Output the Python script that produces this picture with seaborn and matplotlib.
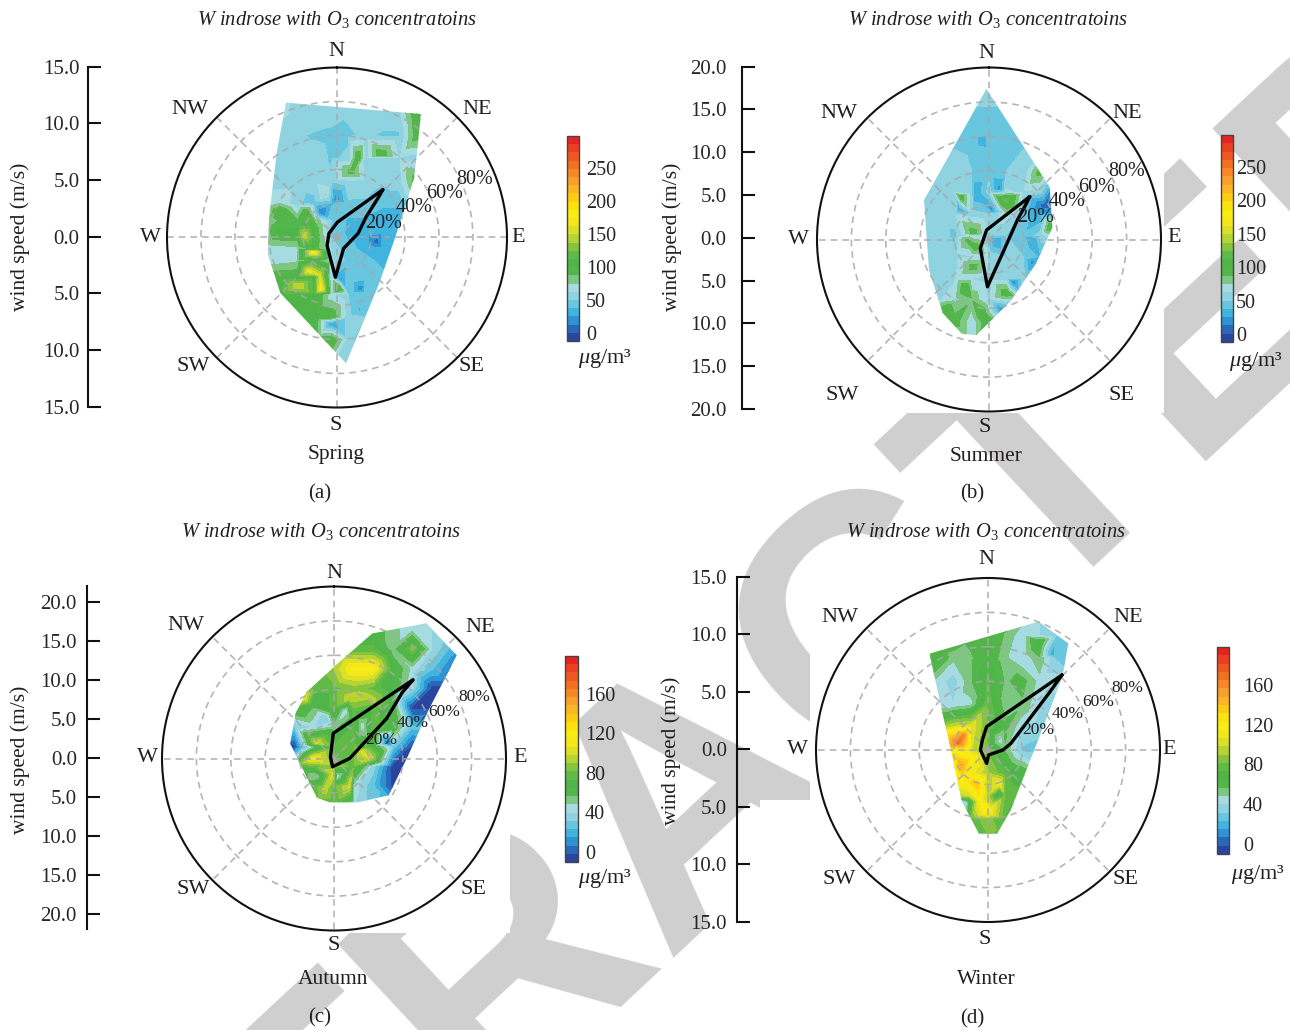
import numpy as np
import pandas as pd
import matplotlib
matplotlib.use('Agg')
import matplotlib.pyplot as plt
import seaborn as sns
from matplotlib.patches import Polygon, Rectangle

W, H = 1290, 1030
DIRS = ['N', 'NE', 'E', 'SE', 'S', 'SW', 'W', 'NW']
PCT_LABELS = ['20%', '40%', '60%', '80%']
TITLE = r'W indrose with O$_3$ concentratoins'

# speed grid of O3 values, rows run north to south
spring_x = [-6.5, -5, -3.5, -2, -0.5, 1, 2.5, 4, 5.5, 7, 8.5]
spring_y = [13, 11, 9, 7, 5, 3, 1.5, 0.5, -1, -2, -3.5, -5, -7, -9, -11.5]
spring_o3 = [
    [85, 80, 60, 60, 60, 60, 60, 60, 62, 100, 105],
    [80, 65, 60, 60, 58, 52, 60, 58, 60, 100, 105],
    [58, 58, 52, 48, 45, 48, 52, 48, 48, 95, 100],
    [58, 58, 58, 58, 48, 52, 55, 52, 60, 55, 60],
    [52, 55, 55, 58, 52, 60, 58, 52, 58, 95, 90],
    [60, 75, 52, 45, 35, 48, 48, 40, 40, 40, 40],
    [70, 90, 88, 85, 50, 35, 35, 30, 30, 30, 30],
    [75, 105, 105, 100, 45, 35, 33, 30, 28, 30, 30],
    [65, 68, 70, 95, 60, 40, 35, 30, 30, 35, 35],
    [65, 68, 72, 95, 65, 45, 40, 35, 35, 40, 40],
    [95, 100, 100, 105, 60, 50, 45, 40, 40, 40, 40],
    [100, 105, 108, 108, 65, 50, 50, 45, 45, 45, 45],
    [95, 100, 105, 105, 100, 55, 50, 55, 45, 45, 45],
    [65, 65, 80, 100, 105, 55, 38, 38, 50, 50, 50],
    [62, 62, 62, 62, 60, 62, 62, 60, 60, 60, 60],
]
spring_edge = [(-4.5, 11.9), (7.4, 10.9), (7.1, 7.9), (6.8, 5.2), (5.1, -0.1), (3.7, -4.1),
               (0.8, -11.1), (-5.0, -4.9), (-6.1, -1.5), (-6.0, 1.7), (-5.3, 7.6)]
spring_spots = [(-1.4, 2.2, 10), (-0.1, 3.4, 15), (3.5, -0.4, 5), (0.4, -3.8, 20), (2.2, -4.6, 15), (-0.5, -7.6, 25),
                (2, -6.4, 35), (-2.5, -3, 165), (-1.5, -3.3, 150), (-3.4, -4.3, 150), (-1.4, -4.6, 170),
                (-2.1, -1.3, 175), (-2.9, 0.2, 150), (1.9, 7.1, 100), (3.9, 7.3, 100), (1.3, 5.8, 95),
                (0.2, -4.5, 110), (-5, 2.3, 105), (-2.7, 2.2, 105), (-1, 3.8, 75)]
spring_dir = [43.8, 1.5, 296.6, 231.3, 182.3, 149, 79.2, 55, 45.9]
spring_pct = [38.9, 9, 5.3, 7.5, 23.4, 7.5, 12.6, 20.8, 34]

summer_x = [-8, -6, -4, -2, 0, 2, 4, 6, 8]
summer_y = [18, 15.5, 13, 10.5, 8, 5.5, 3, 0.5, -2, -4.5, -7, -9.5, -12]
summer_o3 = [
    [50, 50, 50, 50, 50, 50, 50, 50, 50],
    [50, 50, 50, 50, 50, 50, 50, 50, 50],
    [48, 48, 48, 48, 45, 48, 48, 48, 48],
    [50, 50, 50, 48, 40, 48, 50, 50, 50],
    [55, 55, 55, 50, 48, 50, 52, 95, 95],
    [58, 60, 62, 50, 55, 65, 60, 55, 55],
    [58, 60, 60, 55, 50, 70, 45, 25, 25],
    [60, 60, 45, 65, 55, 50, 40, 55, 80],
    [60, 60, 55, 62, 60, 50, 50, 35, 50],
    [60, 55, 60, 62, 55, 55, 55, 50, 50],
    [60, 60, 70, 85, 60, 72, 60, 55, 50],
    [100, 105, 95, 65, 105, 65, 45, 50, 50],
    [65, 70, 65, 65, 80, 60, 55, 50, 50],
]
summer_edge = [(-0.3, 17.6), (7.1, 6.1), (7.4, 1.4), (5.5, -2.8), (2.6, -7.1), (-1.5, -11.2),
               (-3.2, -11), (-5.4, -8.6), (-7, -3.6), (-7.6, 4.6)]
summer_spots = [(-3.3, 5, 100), (-1.6, 5.4, 25), (1.9, 4.6, 125), (1.2, 5.9, 20), (-3.4, 3.4, 20), (0.4, 3.4, 20),
                (6.4, 4, 5), (7.1, 5.2, 15), (7.2, 1.5, 105), (-1.8, 0.8, 95), (-1.5, -1, 100), (-2.7, 0, 90),
                (0.7, 0, 20), (5, -2.6, 20), (5.3, 0, 25), (2.8, -4.9, 15), (1.6, -8.2, 15), (-1.8, -3.2, 95),
                (-2.7, -5.5, 105), (2.1, -6.3, 100), (-0.8, -8.8, 105), (-4.8, -8, 100), (-0.8, 11.3, 30)]
summer_dir = [43.6, 345.8, 224.3, 181.9, 118, 55.5, 46.7]
summer_pct = [34.4, 5.7, 7.2, 27.5, 10.5, 20, 29.2]

autumn_x = [-7.5, -5, -2.5, 0, 2.5, 5, 7.5, 10, 12.5, 15, 17.5]
autumn_y = [19, 16.5, 14, 11.5, 9, 6.5, 4, 1.5, -1, -3.5, -6]
autumn_o3 = [
    [70, 70, 70, 70, 70, 65, 45, 40, 40, 35, 25],
    [70, 70, 70, 70, 70, 65, 50, 45, 40, 30, 20],
    [75, 75, 75, 75, 75, 75, 50, 85, 40, 20, 5],
    [78, 78, 78, 90, 118, 118, 68, 45, 25, 5, -5],
    [78, 78, 78, 78, 85, 78, 65, 40, -5, -5, -5],
    [60, 72, 55, 78, 82, 75, 65, -5, -5, -5, -5],
    [30, 30, 40, 50, 75, 80, 68, 25, 25, 25, 25],
    [-5, -5, 50, 75, 78, 70, 30, -5, 10, 10, 10],
    [72, 72, 78, 85, 80, 35, -5, -5, -5, -5, -5],
    [72, 72, 75, 78, 45, 25, -5, -5, -5, -5, -5],
    [72, 72, 72, 72, 40, 25, 20, -5, -5, -5, -5],
]
autumn_edge = [(11.8, 17.3), (15.7, 13.2), (12.1, 6.2), (9.4, 0.2), (7, -4.7), (3.1, -5.6),
               (-0.6, -5.6), (-2.2, -5), (-5.6, 1.9), (-4.9, 5.8), (-3.5, 8.5), (0.2, 11.9), (4.9, 16)]
autumn_spots = [(-2.7, 0, 110), (3.9, 8, 95), (2, 7.7, 95), (4.9, 7.4, 95), (-1.1, 5.2, 30), (7, 2, -5),
                (-2.2, 2, 100), (3.6, 0.9, 100), (4.6, 0, 100), (-3.8, 7.7, 105), (1.5, 6.2, 40), (3.6, 4.1, 40),
                (0.4, -2.3, 40), (-2.2, -2.3, 45), (2, -3.6, 100), (-1.2, -4, 95), (-0.1, -1.9, 100), (9.1, 0.9, -5)]
autumn_dir = [45.1, 358.4, 297, 190, 89.3, 64.3, 52.7, 46]
autumn_pct = [64.7, 14.7, 2.3, 4.9, 9.2, 18.1, 38.6, 55]

winter_x = [-6, -4.5, -3, -1.5, 0, 1.5, 3, 4.5, 6, 7.5]
winter_y = [12, 10, 8, 6, 4, 2, 0, -2, -4, -6, -8]
winter_o3 = [
    [70, 70, 70, 70, 70, 68, 55, 40, 35, 35],
    [72, 72, 70, 60, 70, 55, 42, 40, 30, 20],
    [80, 70, 50, 55, 65, 50, 40, 55, 30, 20],
    [45, 45, 35, 55, 75, 55, 60, 45, 45, 40],
    [40, 40, 40, 45, 80, 50, 55, 40, 35, 35],
    [80, 85, 100, 105, 80, 60, 40, 35, 30, 30],
    [90, 100, 115, 100, 80, 55, 30, 28, 30, 30],
    [88, 100, 108, 110, 90, 75, 65, 50, 35, 35],
    [80, 80, 90, 100, 92, 80, 78, 45, 40, 40],
    [78, 72, 76, 78, 85, 72, 60, 50, 50, 50],
    [78, 78, 78, 78, 80, 78, 70, 60, 60, 60],
]
winter_edge = [(4.4, 11.2), (7, 9.3), (6.5, 6.4), (4.5, 1.2), (2, -5.2), (0.8, -7.3),
               (-0.8, -7.3), (-2.3, -4.4), (-3.5, 1.2), (-3.9, 2.9), (-5.1, 8.4)]
winter_spots = [(-2.1, 1.3, 160), (-2.6, 0.6, 170), (-2.4, -1.3, 150), (-0.1, -5.4, 120), (-1, -3, 140),
                (-1.4, -0.7, 120), (1, -2.9, 110), (-2.1, -2.6, 120), (-0.7, -4.4, 115), (1, -3.8, 55),
                (-2.1, -4.6, 30), (5.6, 8.4, 15), (4.4, 9.4, 70), (1, 0.9, 40)]
winter_dir = [44.6, 356.6, 330.8, 270, 186, 173, 90, 73.8, 46.8]
winter_pct = [61.2, 13.6, 6.7, 4.4, 7.8, 2.9, 8.7, 13.9, 49.5]

speed_ticks_15 = [15, 10, 5, 0, -5, -10, -15]
speed_ticks_20 = [20, 15, 10, 5, 0, -5, -10, -15, -20]
cbar_ticks_wide = [0, 50, 100, 150, 200, 250]
cbar_ticks_narrow = [0, 40, 80, 120, 160]

rose_colors = ['#2a3a96', '#2b50a8', '#2b7cc6', '#2fa6dc', '#4dbde0', '#74cadf', '#9ad6e2', '#a9dde0', '#6fc063',
               '#4fb548', '#4fb548', '#62ba46', '#88c53f', '#b5d334', '#dbdf28', '#f3e81a', '#f9ed13', '#fde50d',
               '#fdd20e', '#fcbc20', '#fba62f', '#f78f28', '#f47b20', '#f06322', '#ee4a24', '#e8301f', '#e3181f']

panels = [
    dict(x=spring_x, y=spring_y, z=spring_o3, edge=spring_edge, spots=spring_spots, dirs=spring_dir, pct=spring_pct,
         season='Spring', tag='(a)', c=(337, 237.5), R=170, rmax=15, ticks=speed_ticks_15, tpad=6,
         spine=(88, 66.7, 406.7), lim=15, ylab=(20, 233), vr=(-12, 298), cticks=cbar_ticks_wide,
         cb=(567, 136, 579, 341), cpad=5, unit=(605, 355), title=(337, 16), lab=(336, 450), tagp=(320, 490),
         comp=[(336, 47), (477, 106), (518, 233), (472, 363), (336, 421), (193, 363), (150, 233), (190, 106)],
         pc=[(384, 220), (414, 203), (445, 190), (475, 175)], pcfs=14.5),
    dict(x=summer_x, y=summer_y, z=summer_o3, edge=summer_edge, spots=summer_spots, dirs=summer_dir, pct=summer_pct,
         season='Summer', tag='(b)', c=(989, 239.5), R=172, rmax=20.1, ticks=speed_ticks_20, tpad=11,
         spine=(742, 66.7, 409), lim=20, ylab=(672, 233), vr=(-12, 298), cticks=cbar_ticks_wide,
         cb=(1221, 135, 1233, 342), cpad=2, unit=(1256, 358), title=(988, 16), lab=(986, 452), tagp=(972, 490),
         comp=[(986, 50), (1127, 109), (1174, 233), (1122, 391), (985, 423), (842, 391), (798, 235), (839, 109)],
         pc=[(1036, 213), (1067, 197), (1097, 183), (1127, 167)], pcfs=14.5),
    dict(x=autumn_x, y=autumn_y, z=autumn_o3, edge=autumn_edge, spots=autumn_spots, dirs=autumn_dir, pct=autumn_pct,
         season='Autumn', tag='(c)', c=(334, 758.5), R=172, rmax=22, ticks=speed_ticks_20, tpad=7,
         spine=(86.5, 586, 929.4), lim=22, ylab=(20, 756), vr=(-10, 198), cticks=cbar_ticks_narrow,
         cb=(565, 656, 578, 862), cpad=5, unit=(605, 875), title=(321, 527), lab=(333, 975), tagp=(320, 1014),
         comp=[(334, 570), (480, 624), (520, 753), (474, 886), (334, 941), (193, 886), (147, 753), (186, 622)],
         pc=[(381, 736), (413, 719), (444, 708), (474, 693)], pcfs=12.5),
    dict(x=winter_x, y=winter_y, z=winter_o3, edge=winter_edge, spots=winter_spots, dirs=winter_dir, pct=winter_pct,
         season='Winter', tag='(d)', c=(988, 750), R=172, rmax=15, ticks=speed_ticks_15, tpad=7,
         spine=(736.5, 576.7, 921.7), lim=15, ylab=(671, 747), vr=(-10, 198), cticks=cbar_ticks_narrow,
         cb=(1217, 647, 1229, 854), cpad=10, unit=(1258, 871), title=(986, 527), lab=(986, 975), tagp=(972, 1015),
         comp=[(986, 556), (1128, 613), (1169, 746), (1126, 876), (985, 935), (839, 876), (797, 745), (840, 613)],
         pc=[(1038, 726), (1068, 710), (1098, 698), (1127, 684)], pcfs=12.5),
]

sns.set_theme(style='white')
plt.rcParams['font.family'] = ['Liberation Serif', 'DejaVu Serif']
plt.rcParams['mathtext.fontset'] = 'custom'
plt.rcParams['mathtext.rm'] = 'Liberation Serif'
plt.rcParams['mathtext.it'] = 'Liberation Serif:italic'
plt.rcParams['text.color'] = '#231f20'
plt.rcParams['axes.labelcolor'] = '#231f20'

cmap = sns.blend_palette(rose_colors, n_colors=256, as_cmap=True)
fig = plt.figure(figsize=(W / 100, H / 100), dpi=100, facecolor='white')


def rect(x0, y0, x1, y1):
    return [x0 / W, 1 - y1 / H, (x1 - x0) / W, (y1 - y0) / H]


def put(x, y, s, **kw):
    # the y values were read 2 px high, and va=center sits 2 px higher again with this font
    fig.text(x / W, 1 - (y + 4) / H, s, ha='center', va='center', **kw)


# watermark sits behind everything, the white boxes hide it around the plots
fig.text(692 / W, 1 - 796 / H, 'RETRACTED', rotation=43, rotation_mode='anchor', ha='center', va='center',
         fontsize=250, fontweight='bold', color='#cfcfcf', family='Liberation Sans', zorder=-3)
for box in [(660, 0, 1164, 413), (0, 0, 650, 500), (0, 500, 510, 933), (810, 577, 1165, 925), (760, 800, 810, 925)]:
    fig.add_artist(Rectangle((box[0] / W, 1 - box[3] / H), (box[2] - box[0]) / W, (box[3] - box[1]) / H,
                             transform=fig.transFigure, facecolor='white', edgecolor='none', zorder=-2))

for p in panels:
    cx, cy = p['c']
    R = p['R']
    box = rect(cx - R, cy - R, cx + R, cy + R)

    # O3 field in m/s: grid plus the small blobs, cut to the sampled area
    ax_f = fig.add_axes(box, zorder=1)
    ax_f.set_xlim(-p['rmax'], p['rmax'])
    ax_f.set_ylim(-p['rmax'], p['rmax'])
    ax_f.axis('off')
    gx, gy = np.meshgrid(p['x'], p['y'])
    spots = pd.DataFrame(p['spots'], columns=['x', 'y', 'o3'])
    all_x = np.concatenate([gx.ravel(), spots['x']])
    all_y = np.concatenate([gy.ravel(), spots['y']])
    all_z = np.concatenate([np.array(p['z'], dtype=float).ravel(), spots['o3']])
    levels = np.linspace(p['vr'][0], p['vr'][1], 26)
    cs = ax_f.tricontourf(all_x, all_y, all_z, levels=levels, cmap=cmap)
    cs.set_clip_path(Polygon(p['edge'], closed=True, transform=ax_f.transData))

    # rose outline and the polar frame
    ax = fig.add_axes(box, projection='polar', zorder=2)
    ax.patch.set_alpha(0)
    ax.set_theta_zero_location('N')
    ax.set_theta_direction(-1)
    rose = pd.DataFrame({'theta': np.radians(p['dirs'] + p['dirs'][:1]), 'pct': p['pct'] + p['pct'][:1]})
    sns.lineplot(data=rose, x='theta', y='pct', sort=False, estimator=None, color='black', linewidth=2.4, ax=ax)
    ax.set_xlabel('')
    ax.set_ylabel('')
    ax.set_rlim(0, 100)
    ax.set_rgrids([20, 40, 60, 80], labels=[''] * 4)
    ax.set_thetagrids(range(0, 360, 45), labels=[''] * 8)
    ax.grid(True, color='#a8a8a8', linestyle=(0, (4, 3)), linewidth=1.2, alpha=0.85)
    ax.spines['polar'].set_linewidth(1.5)
    ax.spines['polar'].set_color('#111111')

    for name, pos in zip(DIRS, p['comp']):
        put(pos[0], pos[1], name, fontsize=16)
    for name, pos in zip(PCT_LABELS, p['pc']):
        put(pos[0], pos[1], name, fontsize=p['pcfs'], zorder=5)

    # speed axis on the left
    sx, st, sb = p['spine']
    ax_s = fig.add_axes(rect(sx, st, sx + 10, sb), zorder=1)
    ax_s.patch.set_alpha(0)
    ax_s.set_ylim(-p['lim'], p['lim'])
    ax_s.set_xticks([])
    ax_s.set_yticks(p['ticks'])
    ax_s.set_yticklabels(['%.1f' % abs(t) for t in p['ticks']], fontsize=15)
    ax_s.tick_params(axis='y', direction='in', length=9, width=1.5, color='#111111', left=True, pad=p['tpad'])
    sns.despine(ax=ax_s, top=True, right=True, bottom=True)
    ax_s.spines['left'].set_linewidth(1.5)
    ax_s.spines['left'].set_color('#111111')
    put(p['ylab'][0], p['ylab'][1], 'wind speed (m/s)', fontsize=15.5, rotation=90)

    # colour bar
    cax = fig.add_axes(rect(*p['cb']), zorder=3)
    cb = fig.colorbar(cs, cax=cax, ticks=p['cticks'])
    cb.ax.tick_params(direction='in', length=6, width=1.2, color='#111111', right=True, labelsize=14.5, pad=p['cpad'])
    cb.outline.set_linewidth(1.0)
    cb.outline.set_edgecolor('#444444')
    put(p['unit'][0], p['unit'][1], r'$\mathit{\mu}$g/m³', fontsize=16)

    put(p['title'][0], p['title'][1], TITLE, fontsize=14.8, style='italic')
    put(p['lab'][0], p['lab'][1], p['season'], fontsize=15.5)
    put(p['tagp'][0], p['tagp'][1], p['tag'], fontsize=15)

fig.savefig('out.png', dpi=100, facecolor='white')
